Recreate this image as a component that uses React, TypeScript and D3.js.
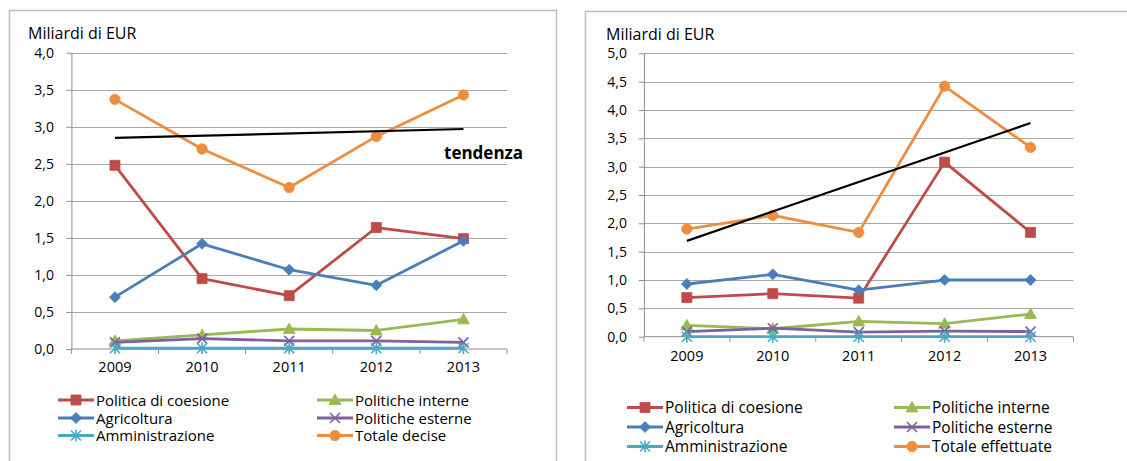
import { useEffect, useRef } from "react";
import * as d3 from "d3";

const years = ["2009", "2010", "2011", "2012", "2013"];

// Grafico a sinistra: impegni decisi
const coesioneDecise = [2.48, 0.95, 0.72, 1.64, 1.49];
const interneDecise = [0.11, 0.19, 0.27, 0.25, 0.4];
const agricolturaDecise = [0.7, 1.42, 1.07, 0.86, 1.46];
const esterneDecise = [0.09, 0.14, 0.11, 0.11, 0.09];
const amministrazioneDecise = [0.01, 0.01, 0.01, 0.01, 0.01];
const totaleDecise = [3.37, 2.7, 2.18, 2.87, 3.43];
const tendenzaDecise = [2.85, 2.97]; // 2009 -> 2013

// Grafico a destra: pagamenti effettuati
const coesioneEffettuate = [0.69, 0.76, 0.68, 3.08, 1.84];
const interneEffettuate = [0.2, 0.14, 0.27, 0.23, 0.4];
const agricolturaEffettuate = [0.93, 1.1, 0.82, 1.0, 1.0];
const esterneEffettuate = [0.09, 0.15, 0.08, 0.1, 0.09];
const amministrazioneEffettuate = [0.0, 0.0, 0.0, 0.0, 0.0];
const totaleEffettuate = [1.9, 2.14, 1.84, 4.42, 3.34];
const tendenzaEffettuate = [1.69, 3.77];

const ticksLeft = [0, 0.5, 1, 1.5, 2, 2.5, 3, 3.5, 4];
const ticksRight = [0, 0.5, 1, 1.5, 2, 2.5, 3, 3.5, 4, 4.5, 5];

const seriesNames = [
  "Politica di coesione",
  "Politiche interne",
  "Agricoltura",
  "Politiche esterne",
  "Amministrazione",
];

const colors = ["#BE4B48", "#98B954", "#4A7EBB", "#7D60A0", "#46AAC5", "#EE8D3E"];
const markers = ["square", "triangle", "diamond", "cross", "asterisk", "circle"];

const FONT = "'Open Sans', Lato, sans-serif";

const panels = [
  {
    values: [coesioneDecise, interneDecise, agricolturaDecise, esterneDecise, amministrazioneDecise, totaleDecise],
    totalName: "Totale decise",
    trend: tendenzaDecise,
    trendLabel: true,
    ticks: ticksLeft,
    max: 4,
    frame: { x: 9.5, y: 10.5, w: 547, h: 470 },
    left: 71.4,
    right: 507,
    top: 52.7,
    bottom: 349,
    yTitle: { x: 28, y: 38.5 },
    tickEnd: 54,
    yearY: 371.5,
    legendRows: [400, 418, 435.5],
    legendCols: [58, 317],
    legendSize: 15,
  },
  {
    values: [coesioneEffettuate, interneEffettuate, agricolturaEffettuate, esterneEffettuate, amministrazioneEffettuate, totaleEffettuate],
    totalName: "Totale effettuate",
    trend: tendenzaEffettuate,
    trendLabel: false,
    ticks: ticksRight,
    max: 5,
    frame: { x: 585.5, y: 11.5, w: 560, h: 470 },
    left: 643.9,
    right: 1073.5,
    top: 53.3,
    bottom: 336.7,
    yTitle: { x: 606, y: 39.5 },
    tickEnd: 627,
    yearY: 360.5,
    legendRows: [407.5, 427, 446.5],
    legendCols: [627, 894],
    legendSize: 15.5,
  },
];

function markerPath(kind: string) {
  switch (kind) {
    case "square":
      return "M-5,-5H5V5H-5Z";
    case "diamond":
      return "M0,-5.5L5.5,0L0,5.5L-5.5,0Z";
    case "triangle":
      return "M0,-6L6,4.5H-6Z";
    case "circle":
      return d3.symbol(d3.symbolCircle, 85)()!;
    case "cross":
      return "M-5,-5L5,5M-5,5L5,-5";
    case "asterisk":
      return "M-5,-5L5,5M-5,5L5,-5M0,-6V6";
  }
  return "";
}

function addMarker(g: any, kind: string, color: string, cx: number, cy: number) {
  const open = kind === "cross" || kind === "asterisk";
  g.append("path")
    .attr("d", markerPath(kind))
    .attr("transform", `translate(${cx},${cy})`)
    .attr("fill", open ? "none" : color)
    .attr("stroke", color)
    .attr("stroke-width", open ? 1.6 : 0.8);
}

export default function App() {
  const ref = useRef<SVGSVGElement>(null);

  useEffect(() => {
    const svg = d3.select(ref.current);
    svg.selectAll("*").remove();

    svg.append("rect").attr("width", 1127).attr("height", 461).attr("fill", "#fff");

    const fmt = (v: number) => d3.format(".1f")(v).replace(".", ",");

    panels.forEach((p) => {
      const g = svg.append("g");

      // cornice
      g.append("rect")
        .attr("x", p.frame.x)
        .attr("y", p.frame.y)
        .attr("width", p.frame.w)
        .attr("height", p.frame.h)
        .attr("fill", "none")
        .attr("stroke", "#bdbdbd")
        .attr("stroke-width", 1.5);

      const x = d3.scaleBand().domain(years).range([p.left, p.right]);
      const y = d3.scaleLinear().domain([0, p.max]).range([p.bottom, p.top]);
      const cx = (i: number) => x(years[i])! + x.bandwidth() / 2;

      // griglia
      g.selectAll(".grid")
        .data(p.ticks.filter((t) => t > 0))
        .enter()
        .append("line")
        .attr("x1", p.left)
        .attr("x2", p.right)
        .attr("y1", (d) => Math.round(y(d)) + 0.5)
        .attr("y2", (d) => Math.round(y(d)) + 0.5)
        .attr("stroke", "#a6a6a6")
        .attr("stroke-width", 1);

      // asse Y
      const yAxis = g
        .append("g")
        .attr("transform", `translate(${p.left},0)`)
        .call(d3.axisLeft(y).tickValues(p.ticks).tickSize(5).tickSizeOuter(0).tickFormat((d: any) => fmt(d)));
      yAxis.select(".domain").attr("stroke", "#8c8c8c");
      yAxis.selectAll(".tick line").attr("stroke", "#8c8c8c");
      yAxis.selectAll(".tick text")
        .attr("x", p.tickEnd - p.left)
        .attr("font-family", FONT)
        .attr("font-size", 14)
        .attr("fill", "#000");

      // asse X
      g.append("line")
        .attr("x1", p.left)
        .attr("x2", p.right)
        .attr("y1", p.bottom)
        .attr("y2", p.bottom)
        .attr("stroke", "#8c8c8c");
      g.selectAll(".xtick")
        .data(d3.range(years.length + 1))
        .enter()
        .append("line")
        .attr("x1", (i) => p.left + i * x.bandwidth())
        .attr("x2", (i) => p.left + i * x.bandwidth())
        .attr("y1", p.bottom)
        .attr("y2", p.bottom + 5)
        .attr("stroke", "#8c8c8c");
      g.selectAll(".year")
        .data(years)
        .enter()
        .append("text")
        .attr("x", (d) => x(d)! + x.bandwidth() / 2)
        .attr("y", p.yearY)
        .attr("text-anchor", "middle")
        .attr("font-family", FONT)
        .attr("font-size", 14.5)
        .text((d) => d);

      // titolo asse
      g.append("text")
        .attr("x", p.yTitle.x)
        .attr("y", p.yTitle.y)
        .attr("font-family", FONT)
        .attr("font-size", 16)
        .text("Miliardi di EUR");

      // serie
      const line = d3
        .line<number>()
        .x((_, i) => cx(i))
        .y((d) => y(d));

      p.values.forEach((vals, s) => {
        g.append("path")
          .attr("d", line(vals))
          .attr("fill", "none")
          .attr("stroke", colors[s])
          .attr("stroke-width", 2.8)
          .attr("stroke-linejoin", "round");
        vals.forEach((v, i) => addMarker(g, markers[s], colors[s], cx(i), y(v)));
      });

      // tendenza
      g.append("line")
        .attr("x1", cx(0))
        .attr("x2", cx(years.length - 1))
        .attr("y1", y(p.trend[0]))
        .attr("y2", y(p.trend[1]))
        .attr("stroke", "#000")
        .attr("stroke-width", 2.2);
      if (p.trendLabel) {
        g.append("text")
          .attr("x", 444)
          .attr("y", 159)
          .attr("font-family", FONT)
          .attr("font-size", 17)
          .attr("font-weight", "bold")
          .text("tendenza");
      }

      // legenda
      const names = [...seriesNames, p.totalName];
      names.forEach((name, s) => {
        const col = s % 2;
        const row = Math.floor(s / 2);
        const lx = p.legendCols[col];
        const ly = p.legendRows[row];
        g.append("line")
          .attr("x1", lx)
          .attr("x2", lx + 36)
          .attr("y1", ly)
          .attr("y2", ly)
          .attr("stroke", colors[s])
          .attr("stroke-width", 2.8);
        addMarker(g, markers[s], colors[s], lx + 18, ly);
        g.append("text")
          .attr("x", lx + 38)
          .attr("y", ly + 5.5)
          .attr("font-family", FONT)
          .attr("font-size", p.legendSize)
          .text(name);
      });
    });
  }, []);

  return (
    <svg
      ref={ref}
      width={1127}
      height={461}
      style={{ position: "absolute", left: 0, top: 0, display: "block" }}
    />
  );
}
